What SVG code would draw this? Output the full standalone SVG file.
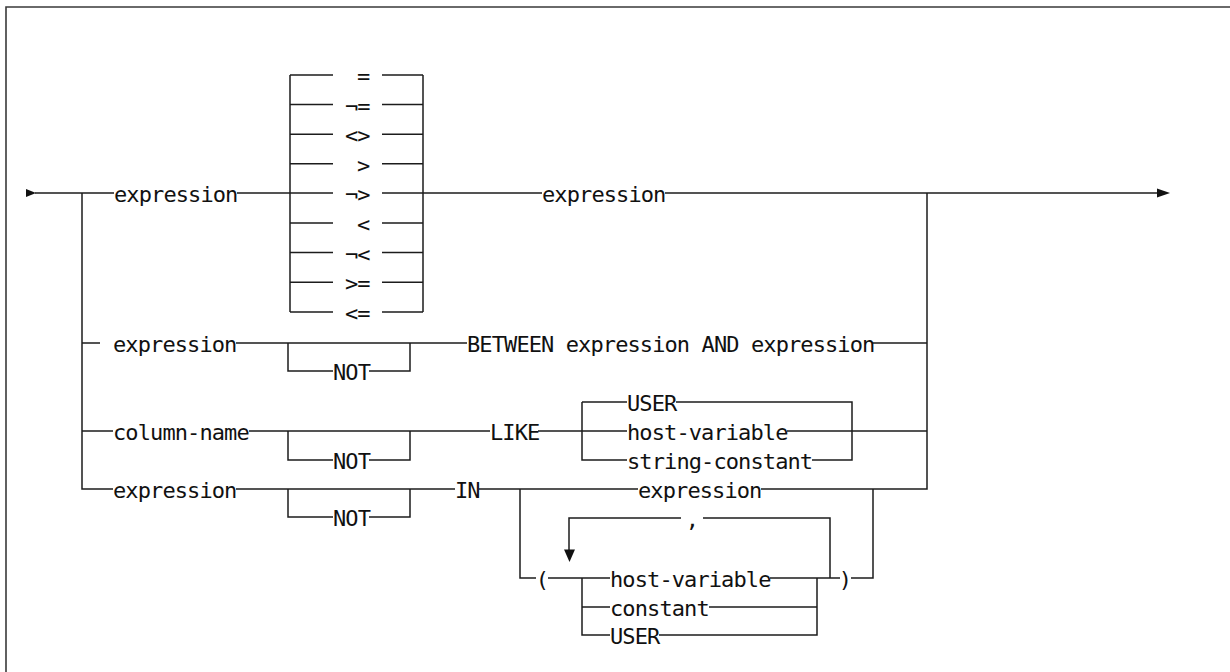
<svg xmlns="http://www.w3.org/2000/svg" width="1230" height="672" viewBox="0 0 1230 672">
<style>
.l{fill:none;stroke:#1c1c1c;stroke-width:1.5}
.f{fill:none;stroke:#3a3a3a;stroke-width:1.6}
.t{font-family:"DejaVu Sans Mono","Liberation Mono",monospace;font-size:22px;letter-spacing:-0.9px;fill:#111}
.c{text-anchor:middle}
.a{fill:#111}
</style>
<rect width="1230" height="672" fill="#fff"/>
<g id="frame">
<path class="f" d="M6,672 V7 H1230"/>
</g>
<g id="connectors">
<polygon class="a" points="26,189 36,193 26,197"/>
<path class="l" d="M35,193 H114 M237,193 H290 M423,193 H542 M665,193 H1160"/>
<polygon class="a" points="1157,188.5 1170,193 1157,197.5"/>
<path class="l" d="M82,193 V489 H113"/>
<path class="l" d="M927,193 V489 H761"/>
<!-- operator box -->
<path class="l" d="M290,75 V312 M423,75 V312"/>
<path class="l" d="M290,75 H333 M382,75 H423 M290,104.6 H333 M382,104.6 H423 M290,134.2 H333 M382,134.2 H423 M290,163.8 H333 M382,163.8 H423 M290,193 H333 M382,193 H423 M290,223 H333 M382,223 H423 M290,252.6 H333 M382,252.6 H423 M290,282.2 H333 M382,282.2 H423 M290,312 H333 M382,312 H423"/>
<!-- row 2 -->
<path class="l" d="M82,343 H100 M236,343 H467 M288,343 V371 H333 M369,371 H410 V343 M872,343 H927"/>
<!-- row 3 -->
<path class="l" d="M82,431 H113 M249,431 H490 M288,431 V460 H333 M369,460 H410 V431 M538,431 H627 M787,431 H927"/>
<path class="l" d="M582,402 V460 H627 M582,402 H627 M676,402 H852 V460 H812"/>
<!-- row 4 -->
<path class="l" d="M236,489 H455 M288,489 V517 H333 M369,517 H410 V489 M479,489 H638"/>
<path class="l" d="M520,489 V578 H536 M548,578 H610 M582,578 V635 H610 M582,607 H610 M770,578 H840 M709,607 H817 M659,635 H817 V578 M851,578 H873 V489"/>
<path class="l" d="M830,578 V518 H703 M681,518 H569 V551"/>
<polygon class="a" points="564,549.5 575,549.5 569.5,562"/>
</g>
<g id="n-start-expression"><text class="t" x="114" y="202">expression</text></g>
<g id="n-operators">
<text class="t" x="357" y="84">=</text>
<text class="t" x="345" y="113.6">¬=</text>
<text class="t" x="345" y="143.2">&lt;&gt;</text>
<text class="t" x="357" y="172.8">&gt;</text>
<text class="t" x="345" y="202">¬&gt;</text>
<text class="t" x="357" y="232">&lt;</text>
<text class="t" x="345" y="261.6">¬&lt;</text>
<text class="t" x="345" y="291.2">&gt;=</text>
<text class="t" x="345" y="321">&lt;=</text>
</g>
<g id="n-rhs-expression"><text class="t" x="542" y="202">expression</text></g>
<g id="n-between-expression"><text class="t" x="113" y="352">expression</text></g>
<g id="n-between-not"><text class="t" x="333" y="380">NOT</text></g>
<g id="n-between"><text class="t" x="467" y="352">BETWEEN expression AND expression</text></g>
<g id="n-column-name"><text class="t" x="113" y="440">column-name</text></g>
<g id="n-like-not"><text class="t" x="333" y="469">NOT</text></g>
<g id="n-like"><text class="t" x="490" y="440">LIKE</text></g>
<g id="n-like-user"><text class="t" x="627" y="411">USER</text></g>
<g id="n-like-host-variable"><text class="t" x="627" y="440">host-variable</text></g>
<g id="n-like-string-constant"><text class="t" x="627" y="469">string-constant</text></g>
<g id="n-in-expression"><text class="t" x="113" y="498">expression</text></g>
<g id="n-in-not"><text class="t" x="333" y="526">NOT</text></g>
<g id="n-in"><text class="t" x="455" y="498">IN</text></g>
<g id="n-in-list-expression"><text class="t" x="638" y="498">expression</text></g>
<g id="n-lparen"><text class="t c" x="542" y="587">(</text></g>
<g id="n-comma"><text class="t c" x="692" y="527">,</text></g>
<g id="n-in-host-variable"><text class="t" x="610" y="587">host-variable</text></g>
<g id="n-in-constant"><text class="t" x="610" y="616">constant</text></g>
<g id="n-in-user"><text class="t" x="610" y="644">USER</text></g>
<g id="n-rparen"><text class="t c" x="845" y="587">)</text></g>
</svg>
